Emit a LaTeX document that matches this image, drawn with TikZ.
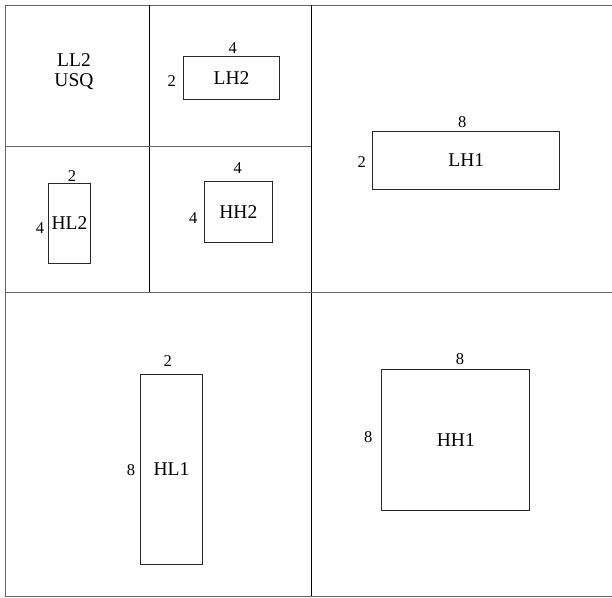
\documentclass[tikz,border=0pt]{standalone}
\usepackage{fontspec}
\setmainfont{Liberation Serif}
\usepackage{tikz}
\definecolor{framegray}{RGB}{100,100,100}
\definecolor{boxgray}{RGB}{40,40,40}

\begin{document}
\begin{tikzpicture}[x=1pt, y=-1pt,
  box/.style={draw=boxgray, line width=1pt, inner sep=0pt, font=\fontsize{19.5}{20}\selectfont},
  dimlabel/.style={inner sep=0pt, font=\fontsize{16.5}{18}\selectfont}]

\useasboundingbox (0,0) rectangle (612,597);

% moldura e divisões
\draw[framegray, line width=1pt] (612,5) -- (5,5) -- (5,596) -- (612,596);
\draw[line width=1pt] (311,5) -- (311,596);
\draw[framegray, line width=1pt] (5,292) -- (612,292);
\draw[line width=1pt] (149,5) -- (149,292);
\draw[framegray, line width=1pt] (5,146) -- (311,146);

% segundo nível
\node[align=center, font=\fontsize{19.5}{20}\selectfont] (ll2) at (74,72) {LL2\\USQ};

\node[box, minimum width=95.6pt, minimum height=42.3pt] (lh2) at (231.5,77.9) {LH2};
\node[dimlabel] (lh2w) at (232.7,48) {4};
\node[dimlabel] (lh2h) at (171.7,81) {2};

\node[box, minimum width=41.6pt, minimum height=80pt] (hl2) at (69.5,223.3) {HL2};
\node[dimlabel] (hl2w) at (72,176) {2};
\node[dimlabel] (hl2h) at (40,228) {4};

\node[box, minimum width=68pt, minimum height=61.3pt] (hh2) at (238.3,211.7) {HH2};
\node[dimlabel] (hh2w) at (237.7,168.3) {4};
\node[dimlabel] (hh2h) at (193.3,218) {4};

% primeiro nível
\node[box, minimum width=187pt, minimum height=58.3pt] (lh1) at (466.2,160.2) {LH1};
\node[dimlabel] (lh1w) at (462.3,122) {8};
\node[dimlabel] (lh1h) at (361.7,161.7) {2};

\node[box, minimum width=61.6pt, minimum height=190pt] (hl1) at (171.5,469.3) {HL1};
\node[dimlabel] (hl1w) at (167.7,360.7) {2};
\node[dimlabel] (hl1h) at (131,470) {8};

\node[box, minimum width=148.3pt, minimum height=140.7pt] (hh1) at (455.8,439.7) {HH1};
\node[dimlabel] (hh1w) at (460,359) {8};
\node[dimlabel] (hh1h) at (368.3,436.7) {8};

\end{tikzpicture}
\end{document}
